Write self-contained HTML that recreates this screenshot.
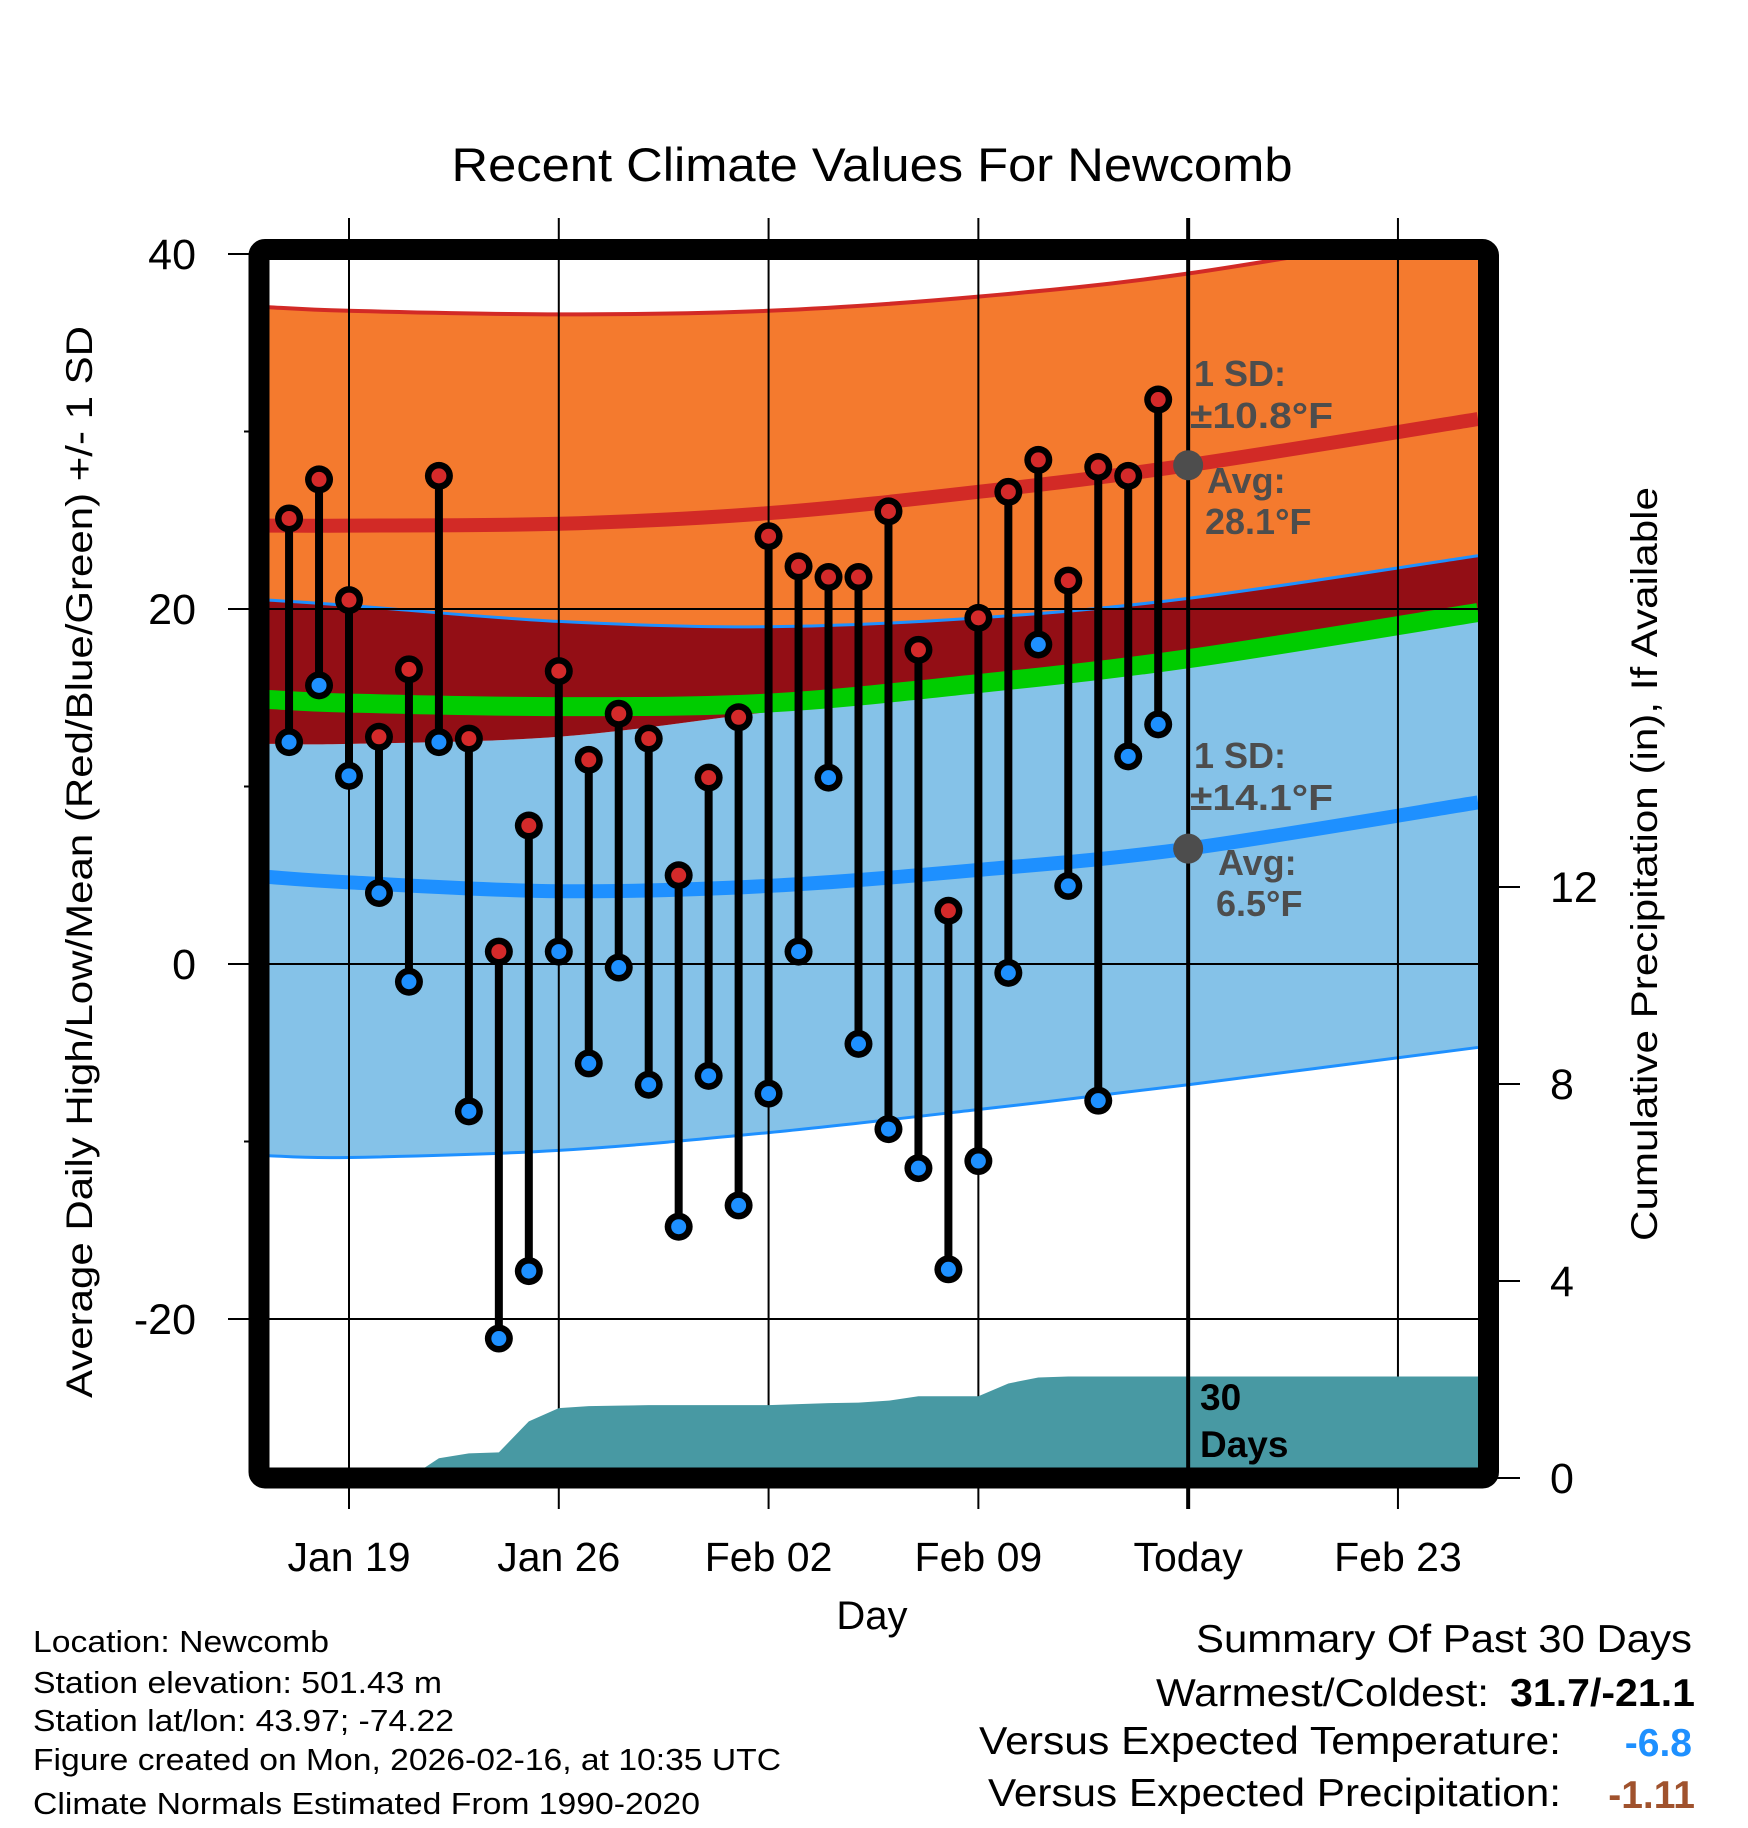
<!DOCTYPE html>
<html><head><meta charset="utf-8"><style>
html,body{margin:0;padding:0;background:#fff}
svg{display:block;font-family:"Liberation Sans",Arial,sans-serif}
</style></head><body>
<svg id="chart" width="1748" height="1828" viewBox="0 0 1748 1828" xmlns="http://www.w3.org/2000/svg">
<defs><clipPath id="plotclip"><rect x="269" y="260" width="1209" height="1208"/></clipPath></defs>
<g id="bands" clip-path="url(#plotclip)"></g>
<g id="grid"></g>
<g id="precip" clip-path="url(#plotclip)"></g>
<g id="points"></g>
<g id="frame"></g>
<text x="872" y="181" font-size="47" text-anchor="middle" textLength="841" lengthAdjust="spacingAndGlyphs">Recent Climate Values For Newcomb</text>
<text transform="translate(92,862) rotate(-90)" font-size="37" text-anchor="middle" textLength="1072" lengthAdjust="spacingAndGlyphs">Average Daily High/Low/Mean (Red/Blue/Green) +/- 1 SD</text>
<text transform="translate(1657,864) rotate(-90)" font-size="37" text-anchor="middle" textLength="754" lengthAdjust="spacingAndGlyphs">Cumulative Precipitation (in), If Available</text>
<text x="872" y="1629" font-size="40" text-anchor="middle">Day</text>
<g fill="#4d4d4d" font-weight="bold" font-size="36">
<text x="1194" y="386">1 SD:</text>
<text x="1190" y="428" textLength="143" lengthAdjust="spacingAndGlyphs">±10.8°F</text>
<text x="1207" y="493">Avg:</text>
<text x="1205" y="534">28.1°F</text>
<text x="1194" y="768">1 SD:</text>
<text x="1190" y="810" textLength="143" lengthAdjust="spacingAndGlyphs">±14.1°F</text>
<text x="1218" y="875">Avg:</text>
<text x="1216" y="916">6.5°F</text>
</g>
<g font-weight="bold" font-size="37" fill="#000">
<text x="1200" y="1410">30</text>
<text x="1200" y="1457">Days</text>
</g>
<g font-size="31" fill="#000">
<text x="33" y="1652" textLength="296" lengthAdjust="spacingAndGlyphs">Location: Newcomb</text>
<text x="33" y="1693" textLength="409" lengthAdjust="spacingAndGlyphs">Station elevation: 501.43 m</text>
<text x="33" y="1731" textLength="421" lengthAdjust="spacingAndGlyphs">Station lat/lon: 43.97; -74.22</text>
<text x="33" y="1770" textLength="748" lengthAdjust="spacingAndGlyphs">Figure created on Mon, 2026-02-16, at 10:35 UTC</text>
<text x="33" y="1814" textLength="667" lengthAdjust="spacingAndGlyphs">Climate Normals Estimated From 1990-2020</text>
</g>
<g font-size="39" fill="#000">
<text x="1692" y="1652" text-anchor="end" textLength="496" lengthAdjust="spacingAndGlyphs">Summary Of Past 30 Days</text>
<text x="1489" y="1706" text-anchor="end" textLength="333" lengthAdjust="spacingAndGlyphs">Warmest/Coldest:</text>
<text x="1695" y="1706" text-anchor="end" font-weight="bold" textLength="185" lengthAdjust="spacingAndGlyphs">31.7/-21.1</text>
<text x="1561" y="1754" text-anchor="end" textLength="582" lengthAdjust="spacingAndGlyphs">Versus Expected Temperature:</text>
<text x="1692" y="1756" text-anchor="end" font-weight="bold" fill="#1e90ff">-6.8</text>
<text x="1561" y="1806" text-anchor="end" textLength="573" lengthAdjust="spacingAndGlyphs">Versus Expected Precipitation:</text>
<text x="1695" y="1808" text-anchor="end" font-weight="bold" fill="#a0522d">-1.11</text>
</g>
</svg>
<script>
// days relative to Jan 19
const bandDays = [-2.67, 0, 7, 14, 21, 28, 37.67];
const highUpper = [37.0, 36.8, 36.6, 36.8, 37.6, 38.9, 41.6];
const highMean = [24.7, 24.7, 24.8, 25.4, 26.6, 28.1, 30.7];
const highLower = [20.5, 20.2, 19.3, 19.0, 19.5, 20.6, 23.0];
const meanLine = [14.9, 14.7, 14.5, 14.7, 15.8, 17.2, 19.8];
const lowUpper = [12.4, 12.4, 12.8, 14.2, 15.5, 16.8, 19.3];
const lowMean = [4.9, 4.6, 4.1, 4.4, 5.3, 6.5, 9.1];
const lowLower = [-10.8, -10.9, -10.5, -9.5, -8.2, -6.8, -4.7];

const obsDays = [-2,-1,0,1,2,3,4,5,6,7,8,9,10,11,12,13,14,15,16,17,18,19,20,21,22,23,24,25,26,27];
const highs = [25.1,27.3,20.5,12.8,16.6,27.5,12.7,0.7,7.8,16.5,11.5,14.1,12.7,5.0,10.5,13.9,24.1,22.4,21.8,21.8,25.5,17.7,3.0,19.5,26.6,28.4,21.6,28.0,27.5,31.8];
const lows = [12.5,15.7,10.6,4.0,-1.0,12.5,-8.3,-21.1,-17.3,0.7,-5.6,-0.2,-6.8,-14.8,-6.3,-13.6,-7.3,0.7,10.5,-4.5,-9.3,-11.5,-17.2,-11.1,-0.5,18.0,4.4,-7.7,11.7,13.5];
const precipCum = [0,0,0,0,0,0.40,0.50,0.52,1.15,1.42,1.46,1.47,1.48,1.48,1.48,1.48,1.48,1.50,1.52,1.53,1.57,1.66,1.66,1.66,1.92,2.04,2.06,2.06,2.06,2.06];

const xTickDays = [0, 7, 14, 21, 28, 35];
const xTickLabels = ["Jan 19", "Jan 26", "Feb 02", "Feb 09", "Today", "Feb 23"];
const yTicks = [40, 20, 0, -20];
const yMinorTicks = [30, 10, -10];
const y2Ticks = [0, 4, 8, 12];
const todayDay = 28;
const todayHighAvg = 28.1, todayLowAvg = 6.5;

const NS = "http://www.w3.org/2000/svg";
const X = d => 349 + d * 29.97;
const Y = v => 254 + (40 - v) * 17.75;
const YP = p => 1478 - p * 49.25;
function el(tag, attrs, parent){ const e=document.createElementNS(NS,tag); for(const k in attrs) e.setAttribute(k,attrs[k]); parent.appendChild(e); return e; }
function pts(days, vals){ return days.map((d,i)=>[X(d),Y(vals[i])]); }
function curve(p){
  let s = "M"+p[0][0]+","+p[0][1];
  for(let i=0;i<p.length-1;i++){
    const p0=p[Math.max(i-1,0)], p1=p[i], p2=p[i+1], p3=p[Math.min(i+2,p.length-1)];
    const c1=[p1[0]+(p2[0]-p0[0])/6, p1[1]+(p2[1]-p0[1])/6];
    const c2=[p2[0]-(p3[0]-p1[0])/6, p2[1]-(p3[1]-p1[1])/6];
    s+=" C"+c1[0]+","+c1[1]+" "+c2[0]+","+c2[1]+" "+p2[0]+","+p2[1];
  }
  return s;
}
function area(top, bot){
  const a = curve(pts(bandDays, top));
  const bp = pts(bandDays, bot).reverse();
  const b = curve(bp).replace(/^M/, " L");
  return a + b + " Z";
}
const bands = document.getElementById("bands");
let e;
e = el("path", {d: area(lowUpper, lowLower), fill: "#85c2e8"}, bands);


e = el("path", {d: area(highLower, lowUpper), fill: "#930e15"}, bands);


e = el("path", {d: area(highUpper, highLower), fill: "#f47a2e"}, bands);


const lines = [
  [highUpper, "#d22a26", 4, 'high-upper-line'],
  [highLower, "#1e90ff", 3, 'high-lower-line'],
  [lowLower, "#1e90ff", 3, 'low-lower-line'],
  [highMean, "#d22a26", 14, 'high-mean-line'],
  [lowMean, "#1e90ff", 14, 'low-mean-line'],
  [meanLine, "#00cc00", 19, 'mean-line']
];
for (const [vals, col, w, nm] of lines) {
  e = el("path", {d: curve(pts(bandDays, vals)), fill: "none", stroke: col, "stroke-width": w}, bands);
  
  
}

const grid = document.getElementById("grid");
xTickDays.forEach((d, i) => {
  e = el("line", {x1: X(d), x2: X(d), y1: 218, y2: 1509, stroke: "#000", "stroke-width": d === todayDay ? 0 : 2}, grid);
  
  
  const t = el("text", {x: X(d), y: 1571, "font-size": 41, "text-anchor": "middle"}, grid);
  t.textContent = xTickLabels[i];
  
  
});
yTicks.forEach(v => {
  e = el("line", {x1: 228, x2: 1478, y1: Y(v), y2: Y(v), stroke: "#000", "stroke-width": 2}, grid);
  
  
  const t = el("text", {x: 196, y: Y(v) + 15, "font-size": 43, "text-anchor": "end"}, grid);
  t.textContent = v;
  
  
});
yMinorTicks.forEach(v => {
  e = el("line", {x1: 244, x2: 260, y1: Y(v), y2: Y(v), stroke: "#000", "stroke-width": 2}, grid);
  
  
});
y2Ticks.forEach(p => {
  e = el("line", {x1: 1488, x2: 1520, y1: YP(p), y2: YP(p), stroke: "#000", "stroke-width": 2}, grid);
  
  
  const t = el("text", {x: 1550, y: YP(p) + 15, "font-size": 43}, grid);
  t.textContent = p;
  
  
});

const precip = document.getElementById("precip");
let pd = "M" + X(obsDays[0]) + "," + YP(0);
obsDays.forEach((d, i) => { pd += " L" + X(d) + "," + YP(precipCum[i]); });
pd += " L" + X(40) + "," + YP(precipCum[precipCum.length - 1]) + " L" + X(40) + "," + YP(0) + " Z";
e = el("path", {d: pd, fill: "#4899a3"}, precip);



const pg = document.getElementById("points");
e = el("line", {x1: X(todayDay), x2: X(todayDay), y1: 218, y2: 1509, stroke: "#000", "stroke-width": 4}, pg);


obsDays.forEach((d, i) => {
  const g = el("g", {}, pg);
  
  
  el("line", {x1: X(d), x2: X(d), y1: Y(highs[i]), y2: Y(lows[i]), stroke: "#000", "stroke-width": 8}, g);
  el("circle", {cx: X(d), cy: Y(highs[i]), r: 14, fill: "#000"}, g);
  const hc = el("circle", {cx: X(d), cy: Y(highs[i]), r: 7.5, fill: "#d42a2a"}, g);
  
  
  el("circle", {cx: X(d), cy: Y(lows[i]), r: 14, fill: "#000"}, g);
  const lc = el("circle", {cx: X(d), cy: Y(lows[i]), r: 7.5, fill: "#1e90ff"}, g);
  
  
});
e = el("circle", {cx: X(todayDay), cy: Y(todayHighAvg), r: 15, fill: "#4d4d4d"}, pg);


e = el("circle", {cx: X(todayDay), cy: Y(todayLowAvg), r: 15, fill: "#4d4d4d"}, pg);



const frame = document.getElementById("frame");
e = el("rect", {x: 259, y: 249.5, width: 1229.5, height: 1228.5, rx: 6, fill: "none", stroke: "#000", "stroke-width": 21}, frame);


</script>
</body></html>
